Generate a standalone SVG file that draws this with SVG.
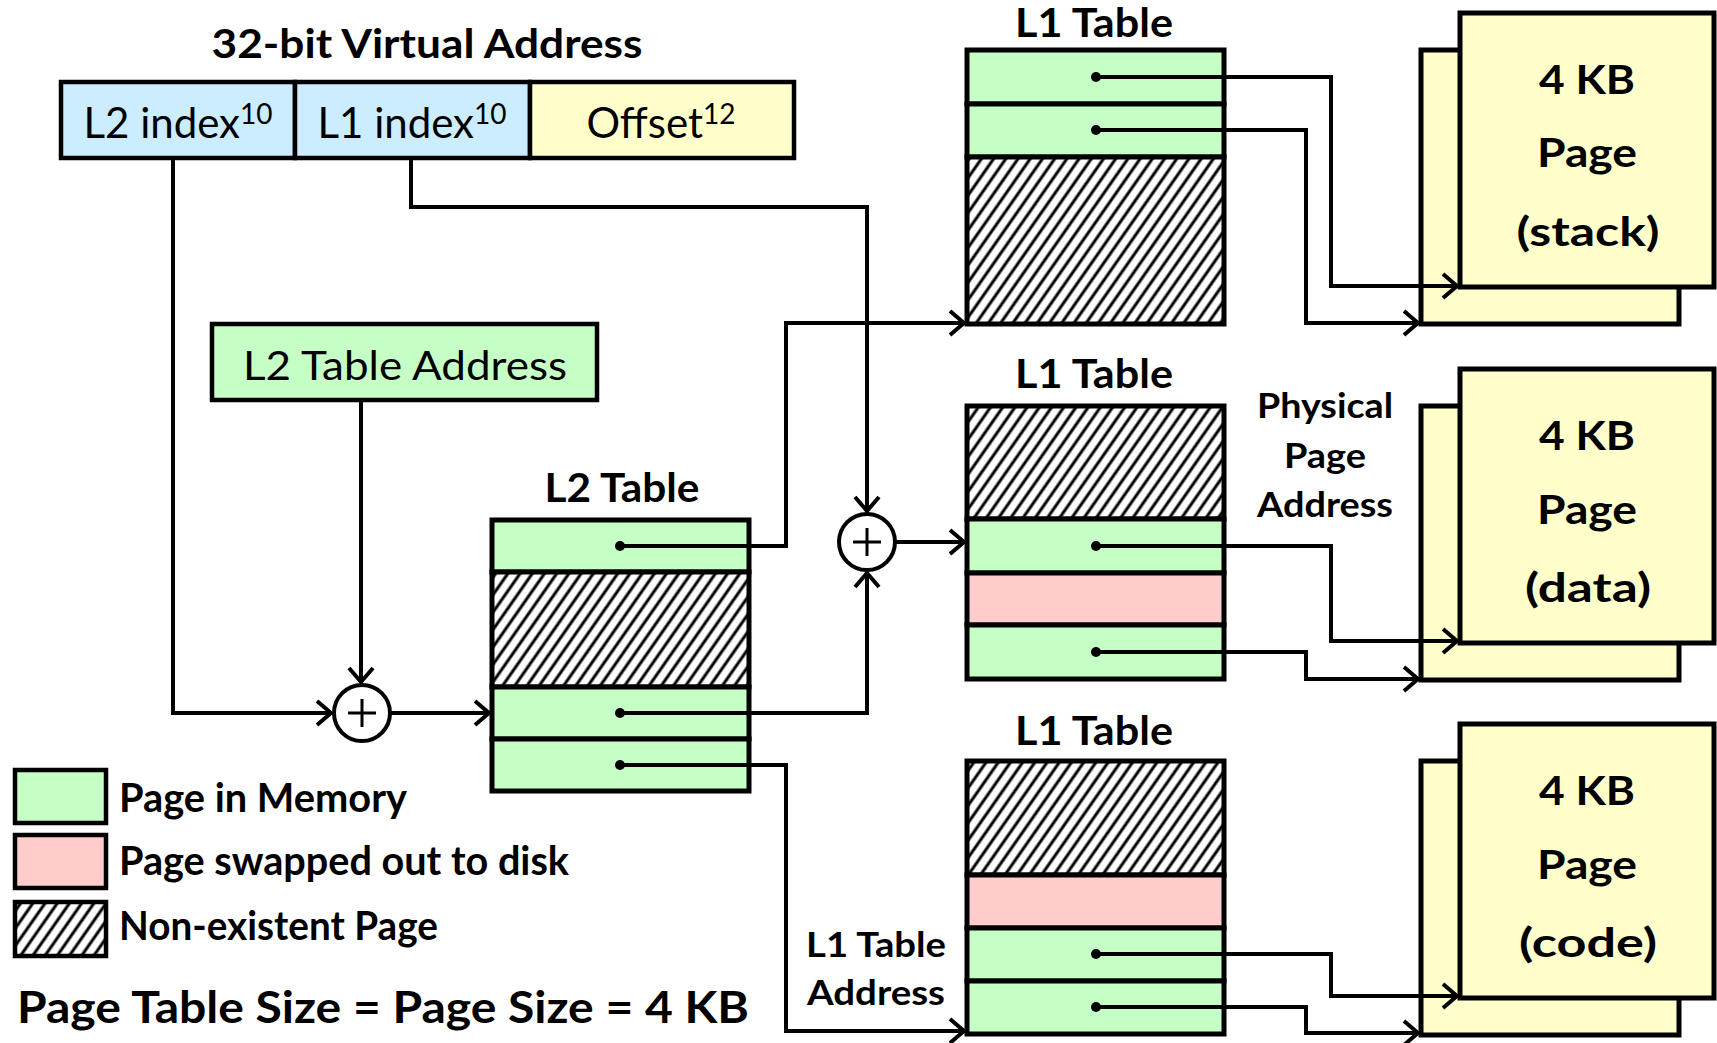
<svg xmlns="http://www.w3.org/2000/svg" width="1717" height="1043" viewBox="0 0 1717 1043">
  <style>
    .bold { font-family: Lato, "Open Sans", sans-serif; font-weight: 700; fill: #000; }
    .reg { font-family: Lato, "Open Sans", sans-serif; font-weight: 400; fill: #000; }
    .mid { text-anchor: middle; }
    .head { font-size: 40px; }
    .note { font-size: 34px; }
    .cell { stroke: #000; stroke-width: 5; }
    .box { stroke: #000; stroke-width: 4.5; }
    .mem { fill: #C6FFC6; }
    .disk { fill: #FFCCCC; }
    .none { fill: url(#hatch); }
    .idx { fill: #CCECFF; }
    .page { fill: #FFFFCC; stroke: #000; stroke-width: 5; }
    .wire { fill: none; stroke: #000; stroke-width: 3; }
    .arrow { fill: none; stroke: #000; stroke-width: 4; marker-end: url(#head); }
    .dot { fill: #000; }
    .adder { fill: #fff; stroke: #000; stroke-width: 4; }
  </style>
  <defs>
    <pattern id="hatch" patternUnits="userSpaceOnUse" width="10" height="10" patternTransform="rotate(35)">
      <rect width="10" height="10" fill="#fff"/>
      <line x1="5" y1="0" x2="5" y2="10" stroke="#000" stroke-width="3"/>
    </pattern>
    <marker id="head" markerUnits="userSpaceOnUse" viewBox="-20 -16 24 32" refX="0" refY="0" markerWidth="24" markerHeight="32" orient="auto">
      <path d="M-15,-12 L-1,0 L-15,12" fill="none" stroke="#000" stroke-width="4"/>
    </marker>
  </defs>

  <!-- virtual address split into fields -->
  <g id="virtual-address">
    <text class="bold mid" x="427" y="58" font-size="40" textLength="431" lengthAdjust="spacingAndGlyphs">32-bit Virtual Address</text>
    <rect class="box idx" x="61" y="82" width="234" height="76"/>
    <rect class="box idx" x="295" y="82" width="235" height="76"/>
    <rect class="box" x="530" y="82" width="264" height="76" fill="#FFFFCC"/>
    <text class="reg mid" x="178" y="138" font-size="42">L2 index<tspan font-size="28" dy="-14">10</tspan></text>
    <text class="reg mid" x="412" y="138" font-size="42">L1 index<tspan font-size="28" dy="-14">10</tspan></text>
    <text class="reg mid" x="661" y="138" font-size="42">Offset<tspan font-size="28" dy="-14">12</tspan></text>
  </g>

  <g id="l2-table-address">
    <rect class="box mem" x="212" y="324" width="385" height="76"/>
    <text class="reg mid" x="405" y="380" font-size="40" textLength="324" lengthAdjust="spacingAndGlyphs">L2 Table Address</text>
  </g>

  <g id="adder-l2">
    <circle class="adder" cx="362" cy="713" r="28"/>
    <path class="wire" d="M348,713 H376 M362,699 V727"/>
  </g>

  <g id="adder-l1">
    <circle class="adder" cx="867" cy="542" r="28"/>
    <path class="wire" d="M853,542 H881 M867,528 V556"/>
  </g>

  <!-- second level table -->
  <g id="l2-table">
    <text class="bold mid head" x="622" y="502" textLength="155" lengthAdjust="spacingAndGlyphs">L2 Table</text>
    <rect class="cell mem" x="492" y="520" width="257" height="52"/>
    <rect class="cell none" x="492" y="572" width="257" height="115"/>
    <rect class="cell mem" x="492" y="687" width="257" height="52"/>
    <rect class="cell mem" x="492" y="739" width="257" height="52"/>
  </g>

  <!-- first level tables -->
  <g id="l1-table-stack">
    <text class="bold mid head" x="1094" y="37" textLength="158" lengthAdjust="spacingAndGlyphs">L1 Table</text>
    <rect class="cell mem" x="967" y="50" width="257" height="54"/>
    <rect class="cell mem" x="967" y="104" width="257" height="53"/>
    <rect class="cell none" x="967" y="157" width="257" height="167"/>
  </g>

  <g id="l1-table-data">
    <text class="bold mid head" x="1094" y="388" textLength="158" lengthAdjust="spacingAndGlyphs">L1 Table</text>
    <rect class="cell none" x="967" y="406" width="257" height="113"/>
    <rect class="cell mem" x="967" y="519" width="257" height="54"/>
    <rect class="cell disk" x="967" y="573" width="257" height="52"/>
    <rect class="cell mem" x="967" y="625" width="257" height="54"/>
  </g>

  <g id="l1-table-code">
    <text class="bold mid head" x="1094" y="745" textLength="158" lengthAdjust="spacingAndGlyphs">L1 Table</text>
    <rect class="cell none" x="967" y="761" width="257" height="114"/>
    <rect class="cell disk" x="967" y="875" width="257" height="53"/>
    <rect class="cell mem" x="967" y="928" width="257" height="53"/>
    <rect class="cell mem" x="967" y="981" width="257" height="53"/>
  </g>

  <!-- physical pages -->
  <g id="page-stack">
    <rect class="page" x="1421" y="50" width="258" height="274"/>
    <rect class="page" x="1460" y="13" width="254" height="274"/>
  </g>
  <g id="page-data">
    <rect class="page" x="1421" y="406" width="258" height="274"/>
    <rect class="page" x="1460" y="369" width="254" height="274"/>
  </g>
  <g id="page-code">
    <rect class="page" x="1421" y="761" width="258" height="274"/>
    <rect class="page" x="1460" y="724" width="254" height="274"/>
  </g>

  <g id="labels">
    <text class="bold mid note" x="1325" y="418" textLength="136" lengthAdjust="spacingAndGlyphs">Physical</text>
    <text class="bold mid note" x="1325" y="468" textLength="82" lengthAdjust="spacingAndGlyphs">Page</text>
    <text class="bold mid note" x="1325" y="517" textLength="136" lengthAdjust="spacingAndGlyphs">Address</text>
    <text class="bold mid note" x="876" y="957" textLength="140" lengthAdjust="spacingAndGlyphs">L1 Table</text>
    <text class="bold mid note" x="876" y="1005" textLength="138" lengthAdjust="spacingAndGlyphs">Address</text>
  </g>

  <!-- connectors -->
  <g id="connectors">
    <path class="arrow" d="M173,158 V713 H332"/>
    <path class="arrow" d="M361,400 V683"/>
    <path class="arrow" d="M390,713 H490"/>
    <path class="arrow" d="M411,158 V207 H867 V512"/>
    <path class="arrow" d="M620,546 H786 V323 H965"/>
    <path class="arrow" d="M620,713 H867 V572"/>
    <path class="arrow" d="M620,765 H786 V1031 H965"/>
    <path class="arrow" d="M895,542 H965"/>

    <path class="arrow" d="M1096,77 H1331 V286 H1458"/>
    <path class="arrow" d="M1096,130 H1306 V323 H1419"/>
    <path class="arrow" d="M1096,546 H1331 V641 H1458"/>
    <path class="arrow" d="M1096,652 H1306 V679 H1419"/>
    <path class="arrow" d="M1096,954 H1331 V996 H1458"/>
    <path class="arrow" d="M1096,1007 H1306 V1033 H1419"/>

    <circle class="dot" cx="620" cy="546" r="5"/>
    <circle class="dot" cx="620" cy="713" r="5"/>
    <circle class="dot" cx="620" cy="765" r="5"/>
    <circle class="dot" cx="1096" cy="77" r="5"/>
    <circle class="dot" cx="1096" cy="130" r="5"/>
    <circle class="dot" cx="1096" cy="546" r="5"/>
    <circle class="dot" cx="1096" cy="652" r="5"/>
    <circle class="dot" cx="1096" cy="954" r="5"/>
    <circle class="dot" cx="1096" cy="1007" r="5"/>
  </g>

  <!-- page captions -->
  <g id="page-text">
    <text class="bold mid head" x="1587" y="94" textLength="96" lengthAdjust="spacingAndGlyphs">4 KB</text>
    <text class="bold mid head" x="1587" y="167" textLength="100" lengthAdjust="spacingAndGlyphs">Page</text>
    <text class="bold mid head" x="1588" y="246" textLength="143" lengthAdjust="spacingAndGlyphs">(stack)</text>
    <text class="bold mid head" x="1587" y="450" textLength="96" lengthAdjust="spacingAndGlyphs">4 KB</text>
    <text class="bold mid head" x="1587" y="524" textLength="100" lengthAdjust="spacingAndGlyphs">Page</text>
    <text class="bold mid head" x="1588" y="602" textLength="126" lengthAdjust="spacingAndGlyphs">(data)</text>
    <text class="bold mid head" x="1587" y="805" textLength="96" lengthAdjust="spacingAndGlyphs">4 KB</text>
    <text class="bold mid head" x="1587" y="879" textLength="100" lengthAdjust="spacingAndGlyphs">Page</text>
    <text class="bold mid head" x="1588" y="957" textLength="138" lengthAdjust="spacingAndGlyphs">(code)</text>
  </g>

  <g id="legend">
    <rect class="box mem" x="15" y="770" width="91" height="53"/>
    <rect class="box disk" x="15" y="835" width="91" height="53"/>
    <rect class="box none" x="15" y="902" width="91" height="54"/>
    <text class="bold head" x="119" y="812" textLength="288" lengthAdjust="spacingAndGlyphs">Page in Memory</text>
    <text class="bold head" x="119" y="875" textLength="450" lengthAdjust="spacingAndGlyphs">Page swapped out to disk</text>
    <text class="bold head" x="119" y="940" textLength="319" lengthAdjust="spacingAndGlyphs">Non-existent Page</text>
  </g>

  <g id="footer">
    <text class="bold" x="17" y="1023" font-size="43" textLength="732" lengthAdjust="spacingAndGlyphs">Page Table Size = Page Size = 4 KB</text>
  </g>
</svg>
